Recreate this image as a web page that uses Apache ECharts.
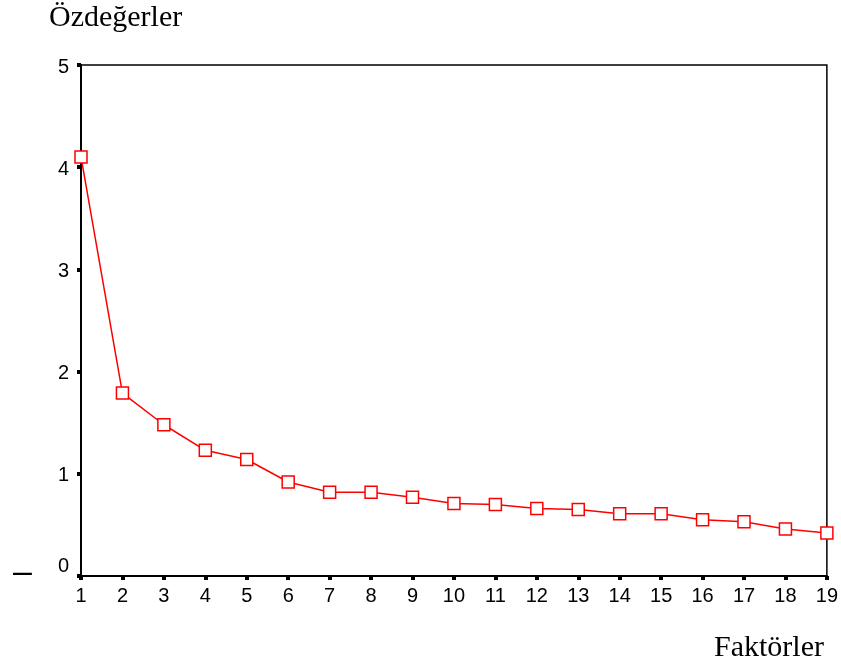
<!DOCTYPE html>
<html>
<head>
<meta charset="utf-8">
<script src="https://cdn.jsdelivr.net/npm/echarts@6/dist/echarts.min.js"></script>
<style>
html,body{margin:0;padding:0;background:#fff;}
#chart{width:841px;height:667px;}
</style>
</head>
<body>
<div id="chart"></div>
<script>
var categories = ['1','2','3','4','5','6','7','8','9','10','11','12','13','14','15','16','17','18','19'];
var eigenvalues = [4.10, 1.79, 1.48, 1.23, 1.14, 0.92, 0.82, 0.82, 0.77, 0.71, 0.70, 0.66, 0.65, 0.61, 0.61, 0.55, 0.53, 0.46, 0.42];
var yTicks = [0, 1, 2, 3, 4, 5];
var yTitle = 'Özdeğerler';
var xTitle = 'Faktörler';

var chart = echarts.init(document.getElementById('chart'), null, {renderer: 'canvas'});
chart.setOption({
  backgroundColor: '#ffffff',
  animation: false,
  grid: {
    left: 81, right: 13, top: 65, bottom: 91,
    show: true, borderColor: '#000', borderWidth: 1.5, backgroundColor: 'transparent'
  },
  xAxis: {
    type: 'category',
    data: categories,
    boundaryGap: false,
    axisLine: {lineStyle: {color: '#000', width: 2}},
    axisTick: {show: true, length: 4, alignWithLabel: true, lineStyle: {color: '#000', width: 4}},
    axisLabel: {color: '#000', fontFamily: 'Liberation Sans, Arial', fontSize: 20, margin: 10},
    splitLine: {show: false}
  },
  yAxis: {
    type: 'value',
    min: yTicks[0], max: yTicks[yTicks.length - 1], interval: 1,
    axisLine: {show: true, lineStyle: {color: '#000', width: 2}},
    axisTick: {show: true, length: 4, lineStyle: {color: '#000', width: 4}},
    axisLabel: {
      color: '#000', fontFamily: 'Liberation Sans, Arial', fontSize: 20, margin: 12,
      padding: [4, 0, 0, 0],
      formatter: function (v) { return v === 0 ? '{z|0}' : String(v); },
      rich: {z: {fontFamily: 'Liberation Sans, Arial', fontSize: 20, color: '#000', padding: [0, 0, 24, 0]}}
    },
    splitLine: {show: false}
  },
  series: [{
    type: 'line',
    data: eigenvalues,
    symbol: 'rect',
    symbolSize: 12,
    showSymbol: true,
    lineStyle: {color: '#ff0000', width: 1.5},
    itemStyle: {color: '#ffffff', borderColor: '#ff0000', borderWidth: 1.5},
    z: 5
  }],
  graphic: [
    {type: 'text', left: 49, top: 3, style: {text: yTitle, font: '30px "Liberation Serif", "Times New Roman", serif', fill: '#000'}},
    {type: 'text', right: 17, top: 633, style: {text: xTitle, font: '30px "Liberation Serif", "Times New Roman", serif', fill: '#000'}},
    {type: 'text', left: 13, top: 556, style: {text: '–', font: '34px "Liberation Sans", Arial', fill: '#000'}}
  ]
});
</script>
</body>
</html>
